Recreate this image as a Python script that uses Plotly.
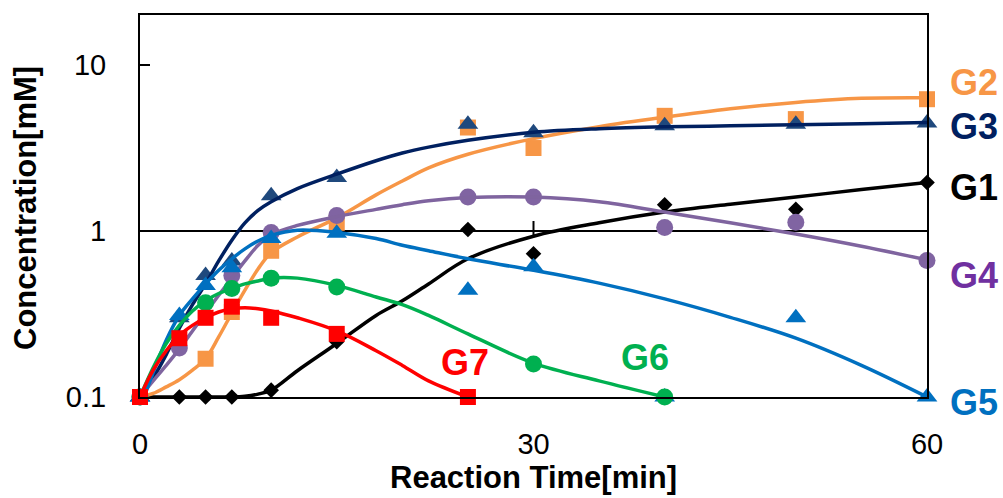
import math
import plotly.graph_objects as go

# ---------------- data ----------------
t_obs = [0, 3, 5, 7, 10, 15, 25, 30, 40, 50, 60]
g1_obs = [0.1, 0.1, 0.1, 0.1, 0.11, 0.215, 1.02, 0.73, 1.44, 1.35, 1.96]
g2_obs = [0.1, None, 0.17, 0.325, 0.76, 1.12, 4.2, 3.16, 4.94, 4.72, 6.22]
g3_obs = [0.1, 0.3, 0.54, 0.66, 1.63, 2.1, 4.4, 3.9, 4.3, 4.4, 4.47]
g4_obs = [0.1, 0.197, None, 0.54, 0.98, 1.24, 1.6, 1.6, 1.05, 1.13, 0.665]
g5_obs = [0.1, 0.31, 0.47, 0.6, 0.9, 0.97, 0.44, 0.61, 0.1, 0.3, 0.1]
g6_obs = [0.1, None, 0.37, 0.45, 0.52, 0.46, None, 0.158, 0.1, None, None]
g7_obs = [0.1, 0.226, 0.30, 0.35, 0.30, 0.24, 0.1, None, None, None, None]

t_fit = [0, 1, 2, 3, 4, 5, 6, 7, 8, 9, 10, 12, 15, 18, 20, 22, 25, 30, 35, 40, 45, 50, 55, 60]
g1_fit = [0.1, 0.1, 0.1, 0.1, 0.1, 0.1, 0.1, 0.1, 0.101, 0.104, 0.11, 0.144, 0.21, 0.31, 0.38, 0.48, 0.68,
          0.93, 1.12, 1.3, 1.45, 1.6, 1.78, 1.96]
g2_fit = [0.1, 0.105, 0.115, 0.127, 0.145, 0.17, 0.23, 0.32, 0.44, 0.59, 0.74, 0.92, 1.2, 1.65, 2.0, 2.4, 2.9,
          3.6, 4.25, 4.85, 5.45, 5.95, 6.3, 6.35]
g3_fit = [0.1, 0.13, 0.18, 0.26, 0.36, 0.48, 0.66, 0.88, 1.12, 1.33, 1.5, 1.8, 2.2, 2.65, 2.95, 3.2, 3.52,
          3.93, 4.13, 4.24, 4.3, 4.36, 4.42, 4.5]
g4_fit = [0.1, 0.125, 0.155, 0.195, 0.25, 0.32, 0.41, 0.52, 0.66, 0.82, 0.95, 1.08, 1.22, 1.35, 1.44, 1.52,
          1.59, 1.6, 1.5, 1.3, 1.12, 0.96, 0.81, 0.67]
g5_fit = [0.085, 0.14, 0.22, 0.31, 0.39, 0.48, 0.58, 0.68, 0.78, 0.87, 0.94, 1.01, 0.98, 0.9, 0.82, 0.76,
          0.68, 0.58, 0.485, 0.39, 0.302, 0.226, 0.155, 0.1]
g6_fit = [0.1, 0.15, 0.21, 0.27, 0.33, 0.38, 0.42, 0.45, 0.48, 0.5, 0.52, 0.52, 0.47, 0.4, 0.36, 0.31,
          0.24, 0.16, 0.125, 0.1, None, None, None, None]
g7_fit = [0.1, 0.145, 0.19, 0.235, 0.27, 0.3, 0.325, 0.34, 0.345, 0.34, 0.33, 0.3, 0.25, 0.19, 0.155, 0.125,
          0.1, None, None, None, None, None, None, None]

x_ticks = [0, 30, 60]
y_ticks = [0.1, 1, 10]
y_ticktext = ["0.1", "1", "10"]
labels = ["G1", "G2", "G3", "G4", "G5", "G6", "G7"]

# ---------------- styling ----------------
FONT = "Liberation Sans, Arial, sans-serif"
W, H = 1003, 498
L, R, T, B = 140, 76, 15, 101
PW, PH = W - L - R, H - T - B
YMIN, YMAX = -1.0, math.log10(20)


def fx(px):
    return (px - L) / PW


def fy(py):
    return (H - B - py) / PH


styles = {
    "G1": dict(line="#000000", mk="#000000", sym="diamond", size=12, txt="#000000"),
    "G2": dict(line="#F79646", mk="#F79646", sym="square", size=16, txt="#F79646"),
    "G3": dict(line="#002060", mk="#1F497D", sym="triangle-up", size=18, txt="#002060"),
    "G4": dict(line="#7F649F", mk="#8064A2", sym="circle", size=17, txt="#7030A0"),
    "G5": dict(line="#0070C0", mk="#0070C0", sym="triangle-up", size=18, txt="#0070C0"),
    "G6": dict(line="#00B050", mk="#00B050", sym="circle", size=17, txt="#00B050"),
    "G7": dict(line="#FF0000", mk="#FF0000", sym="square", size=16, txt="#FF0000"),
}
obs = {"G1": g1_obs, "G2": g2_obs, "G3": g3_obs, "G4": g4_obs, "G5": g5_obs, "G6": g6_obs, "G7": g7_obs}
fit = {"G1": g1_fit, "G2": g2_fit, "G3": g3_fit, "G4": g4_fit, "G5": g5_fit, "G6": g6_fit, "G7": g7_fit}

fig = go.Figure()
for name in labels:
    s = styles[name]
    fig.add_trace(go.Scatter(x=t_obs, y=obs[name], mode="markers", cliponaxis=False,
                             marker=dict(symbol=s["sym"], size=s["size"], color=s["mk"],
                                         line=dict(width=0)),
                             showlegend=False, hoverinfo="skip"))
    fig.add_trace(go.Scatter(x=t_fit, y=fit[name], mode="lines",
                             line=dict(color=s["line"], width=3.5, shape="spline", smoothing=1.0),
                             showlegend=False, hoverinfo="skip"))

f1 = (0 - YMIN) / (YMAX - YMIN)
shapes = [
    dict(type="line", xref="paper", yref="paper", x0=0, x1=1, y0=f1, y1=f1,
         line=dict(color="black", width=2), layer="below"),
    dict(type="line", xref="x", yref="paper", x0=30, x1=30, y0=fy(235), y1=fy(221),
         line=dict(color="black", width=2)),
]

label_pos = {
    "G2": (948, 82, "left"), "G3": (948, 127, "left"), "G1": (948, 187, "left"),
    "G4": (948, 275, "left"), "G5": (948, 402, "left"),
    "G7": (465, 362, "center"), "G6": (645, 357, "center"),
}
annotations = []
for name, (px, py, anc) in label_pos.items():
    annotations.append(dict(text=f"<b>{name}</b>", xref="paper", yref="paper", x=fx(px), y=fy(py),
                            xanchor=anc, yanchor="middle", showarrow=False,
                            font=dict(family=FONT, size=36, color=styles[name]["txt"])))
annotations.append(dict(text="<b>Reaction Time[min]</b>", xref="paper", yref="paper",
                        x=0.5, y=fy(477), xanchor="center", yanchor="middle", showarrow=False,
                        font=dict(family=FONT, size=31, color="black")))
annotations.append(dict(text="<b>Concentration[mM]</b>", xref="paper", yref="paper",
                        x=fx(26), y=fy(208), xanchor="center", yanchor="middle", showarrow=False,
                        textangle=-90, font=dict(family=FONT, size=31, color="black")))

fig.update_layout(
    width=W, height=H, margin=dict(l=L, r=R, t=T, b=B),
    plot_bgcolor="white", paper_bgcolor="white",
    font=dict(family=FONT, color="black"),
    shapes=shapes, annotations=annotations,
    xaxis=dict(range=[0, 60], tickvals=x_ticks, ticks="", showgrid=False, zeroline=False,
               showline=True, linecolor="black", linewidth=2, mirror=True,
               tickfont=dict(family=FONT, size=29, color="black"), ticklabelstandoff=20),
    yaxis=dict(type="log", range=[YMIN, YMAX], tickvals=y_ticks, ticktext=y_ticktext,
               ticks="inside", ticklen=10, tickwidth=2, tickcolor="black",
               showgrid=False, zeroline=False,
               showline=True, linecolor="black", linewidth=2, mirror=True,
               tickfont=dict(family=FONT, size=29, color="black"), ticklabelstandoff=26),
)

fig.write_html("out.html")
